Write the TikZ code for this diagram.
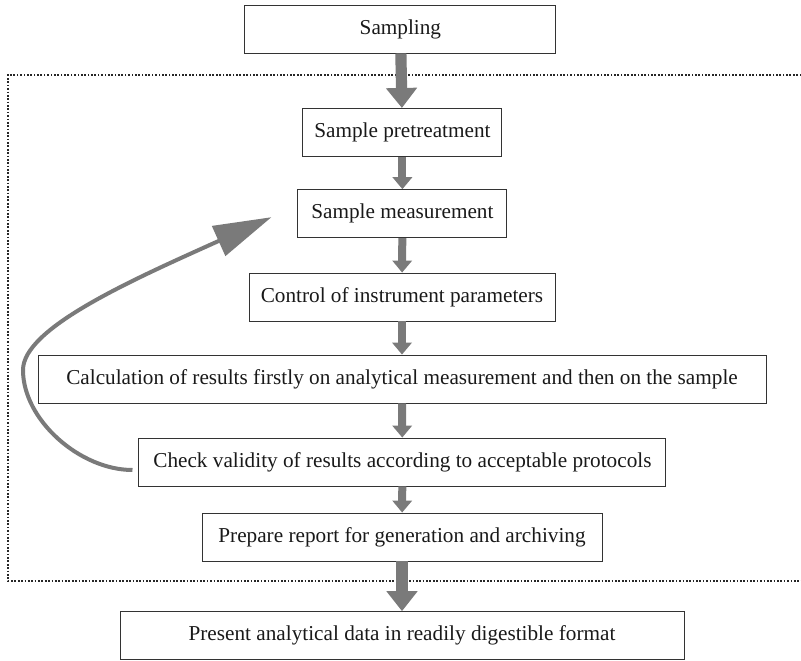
\documentclass[tikz,border=0pt]{standalone}
\usepackage{fontspec}
\setmainfont{Liberation Serif}
\usetikzlibrary{arrows.meta}

\begin{document}
\begin{tikzpicture}[
  box/.style={draw=black!80, line width=0.6pt, minimum height=1.2cm, inner sep=0pt, font=\fontsize{15.1}{18}\selectfont, text=black!90},
  flow/.style={draw=black!52, line width=0.2cm, -{Triangle[length=0.3cm,width=0.48cm]}},
  bigflow/.style={draw=black!52, line width=0.28cm, -{Triangle[length=0.5cm,width=0.75cm]}},
  loopback/.style={draw=black!52, line width=0.1cm, -{Triangle[length=1.45cm,width=0.8cm]}}
]
\useasboundingbox (0,0) rectangle (20.025,16.5);
% dotted frame around the lab steps
\draw[black!85, line width=0.9pt, dash pattern=on 1.2pt off 1.2pt] (20.2,14.625) -- (0.2,14.625) -- (0.2,1.975) -- (20.2,1.975);

\node[box, minimum width=7.775cm] (samp) at (10.01,15.775) {Sampling};
\node[box, minimum width=4.975cm] (pret) at (10.06,13.19) {Sample pretreatment};
\node[box, minimum width=5.225cm] (meas) at (10.06,11.16) {Sample measurement};
\node[box, minimum width=7.65cm] (ctrl) at (10.05,9.075) {Control of instrument parameters};
\node[box, minimum width=18.2cm] (calc) at (10.05,7.025) {Calculation of results firstly on analytical measurement and then on the sample};
\node[box, minimum width=13.175cm] (check) at (10.06,4.95) {Check validity of results according to acceptable protocols};
\node[box, minimum width=10cm] (prep) at (10.05,3.075) {Prepare report for generation and archiving};
\node[box, minimum width=14.1cm] (pres) at (10.05,0.61) {Present analytical data in readily digestible format};

\draw[bigflow] (samp) -- (pret);
\draw[flow] (pret) -- (meas);
\draw[flow] (meas) -- (ctrl);
\draw[flow] (ctrl) -- (calc);
\draw[flow] (calc) -- (check);
\draw[flow] (check) -- (prep);
\draw[bigflow] (prep) -- (pres);

% loop back to the measurement step
\coordinate (bend) at (0.575,7.25);
\draw[loopback] ([xshift=-0.15cm,yshift=-0.2cm]check.west) .. controls (2.0,4.75) and (0.575,6.0) .. (bend)
  .. controls (0.575,8.3) and (3.3,9.5) .. ([xshift=-0.65cm,yshift=-0.09cm]meas.west);
\end{tikzpicture}
\end{document}
